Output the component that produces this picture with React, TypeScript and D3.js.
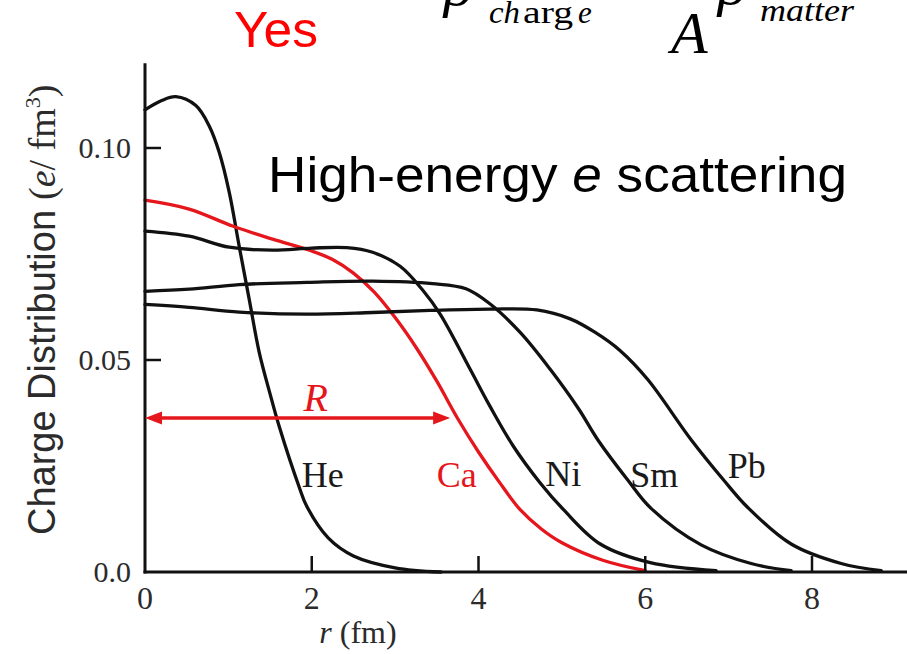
import React from "react";
import * as d3 from "d3";

// ---- data ----
const nuclei = ["He", "Ca", "Ni", "Sm", "Pb"];

const heR = [0, 0.2, 0.37, 0.61, 0.77, 0.89, 1.01, 1.13, 1.25, 1.37, 1.5, 1.61, 1.85, 1.94, 2.2, 2.5, 3.0, 3.55];
const heV = [0.109, 0.1112, 0.1121, 0.11, 0.1052, 0.099, 0.0896, 0.0768, 0.0643, 0.0518, 0.042, 0.0343, 0.02, 0.0155, 0.008, 0.0038, 0.001, 0];

const caR = [0, 0.53, 1.05, 1.53, 2.0, 2.25, 2.5, 2.75, 3.0, 3.25, 3.5, 3.75, 4.0, 4.25, 4.5, 4.75, 5.0, 5.5, 6.0];
const caV = [0.0877, 0.0856, 0.0816, 0.0785, 0.0757, 0.0737, 0.0705, 0.066, 0.06, 0.053, 0.045, 0.0362, 0.0283, 0.0212, 0.0147, 0.0102, 0.0069, 0.0027, 0.0003];

const niR = [0, 0.53, 1.01, 1.53, 2.0, 2.42, 2.73, 3.06, 3.33, 3.54, 3.9, 4.14, 4.42, 4.74, 5.02, 5.46, 6.06, 6.85];
const niV = [0.0804, 0.0792, 0.0766, 0.0759, 0.0764, 0.0765, 0.0754, 0.0721, 0.0665, 0.0608, 0.0478, 0.039, 0.0296, 0.021, 0.0147, 0.0066, 0.0022, 0.0003];

const smR = [0, 0.53, 1.13, 1.94, 2.73, 3.45, 3.85, 4.14, 4.5, 4.86, 5.2, 5.43, 5.79, 6.07, 6.67, 7.27, 7.75];
const smV = [0.0662, 0.0667, 0.0678, 0.0683, 0.0686, 0.068, 0.0668, 0.0632, 0.0565, 0.0478, 0.0385, 0.0312, 0.0217, 0.015, 0.0064, 0.002, 0.0003];

const pbR = [0, 0.53, 1.13, 1.94, 2.73, 3.45, 4.14, 4.7, 5.1, 5.4, 5.7, 6.03, 6.55, 6.94, 7.23, 7.75, 8.35, 8.83];
const pbV = [0.0631, 0.0624, 0.0613, 0.0608, 0.0612, 0.0617, 0.062, 0.0618, 0.0597, 0.0565, 0.0522, 0.0454, 0.0312, 0.0217, 0.0152, 0.0066, 0.002, 0.0003];

const seriesR = [heR, caR, niR, smR, pbR];
const seriesV = [heV, caV, niV, smV, pbV];

const xTicks = [0, 2, 4, 6, 8];
const yTicks = [0, 0.05, 0.1];
const yTickLabels = ["0.0", "0.05", "0.10"];

// radius arrow for Ca (in data units)
const arrowR = [0, 3.66];
const arrowV = 0.0363;

const W = 907;
const H = 654;
const SERIF = "'Liberation Serif', 'Times New Roman', 'DejaVu Serif', serif";
const SANS = "'Liberation Sans', Arial, Helvetica, sans-serif";
const RED = "#e5161c";
const INK = "#111";

export default function App() {
  const x = d3.scaleLinear().domain([0, 8]).range([145, 812]);
  const y = d3.scaleLinear().domain([0, 0.1]).range([572, 148]);
  const line = d3
    .line<[number, number]>()
    .x((d) => x(d[0]))
    .y((d) => Math.min(y(0), y(d[1])))
    .curve(d3.curveCatmullRom.alpha(0.5));

  const colors = nuclei.map((n) => (n === "Ca" ? RED : INK));
  // label anchors in data units
  const labelPos: [number, number][] = [
    [1.88, 0.0201],
    [3.5, 0.0201],
    [4.8, 0.0203],
    [5.82, 0.0201],
    [6.99, 0.0222],
  ];

  const yTop = y(0.12);
  const ax = x(0);
  const ay = y(0);
  const arY = y(arrowV);
  const ax0 = x(arrowR[0]);
  const ax1 = x(arrowR[1]);

  return (
    <svg
      width={W}
      height={H}
      viewBox={`0 0 ${W} ${H}`}
      style={{ position: "absolute", left: 0, top: 0, background: "#fff" }}
    >
      <rect x={0} y={0} width={W} height={H} fill="#fff" />

      {/* top formula fragments (cut off at the top edge, as in the source) */}
      <text x={234} y={47} fontFamily={SANS} fontSize={50} fill="#ff0000" textLength={84} lengthAdjust="spacingAndGlyphs">
        Yes
      </text>
      <text x={444} y={5} fontFamily={SERIF} fontStyle="italic" fontSize={60} fill="#000">
        ρ
      </text>
      <text y={23} fontFamily={SERIF} fontSize={31} fill="#000">
        <tspan x={489} fontStyle="italic" textLength={31} lengthAdjust="spacingAndGlyphs">ch</tspan>
        <tspan x={523} textLength={50} lengthAdjust="spacingAndGlyphs">arg</tspan>
        <tspan x={578} fontStyle="italic">e</tspan>
      </text>
      <text x={671} y={53} fontFamily={SERIF} fontStyle="italic" fontSize={60} fill="#000">
        A
      </text>
      <text x={718} y={4} fontFamily={SERIF} fontStyle="italic" fontSize={60} fill="#000">
        ρ
      </text>
      <text x={760} y={21} fontFamily={SERIF} fontStyle="italic" fontSize={31} fill="#000" textLength={94} lengthAdjust="spacingAndGlyphs">
        matter
      </text>

      {/* annotation */}
      <text x={268} y={192} fontFamily={SANS} fontSize={50} fill="#000" textLength={579} lengthAdjust="spacingAndGlyphs">
        <tspan>High-energy </tspan>
        <tspan fontStyle="italic">e</tspan>
        <tspan> scattering</tspan>
      </text>

      {/* curves */}
      {seriesR.map((rs, i) => {
        const pts = rs.map((r, j) => [r, seriesV[i][j]] as [number, number]);
        return (
          <path
            key={nuclei[i]}
            d={line(pts) || ""}
            fill="none"
            stroke={colors[i]}
            strokeWidth={3.3}
            strokeLinejoin="round"
            strokeLinecap="round"
          />
        );
      })}

      {/* axes */}
      <line x1={ax} y1={yTop} x2={ax} y2={ay + 1.5} stroke={INK} strokeWidth={3} />
      <line x1={ax - 1.5} y1={ay} x2={W} y2={ay} stroke={INK} strokeWidth={3} />
      {yTicks.filter((t) => t > 0).map((t) => (
        <line key={"yt" + t} x1={ax} x2={ax + 16} y1={y(t)} y2={y(t)} stroke={INK} strokeWidth={2.5} />
      ))}
      {xTicks.filter((t) => t > 0).map((t) => (
        <line key={"xt" + t} x1={x(t)} x2={x(t)} y1={ay} y2={ay - 16} stroke={INK} strokeWidth={2.5} />
      ))}
      {yTicks.map((t, i) => (
        <text
          key={"yl" + t}
          x={ax - 14}
          y={y(t)}
          dy="0.34em"
          textAnchor="end"
          fontFamily={SERIF}
          fontSize={30}
          fill="#2b2b2b"
        >
          {yTickLabels[i]}
        </text>
      ))}
      {xTicks.map((t) => (
        <text
          key={"xl" + t}
          x={x(t)}
          y={609}
          textAnchor="middle"
          fontFamily={SERIF}
          fontSize={32}
          fill="#2b2b2b"
        >
          {t}
        </text>
      ))}
      <text x={358} y={643} textAnchor="middle" fontFamily={SERIF} fontSize={32} fill="#2b2b2b">
        <tspan fontStyle="italic">r</tspan>
        <tspan> (fm)</tspan>
      </text>

      {/* y title */}
      <text transform="translate(55,535) rotate(-90)" fontSize={38} fill="#2b2b2b">
        <tspan fontFamily={SANS} textLength={325} lengthAdjust="spacingAndGlyphs">
          Charge Distribution
        </tspan>
        <tspan fontFamily={SERIF} dx={10}>(</tspan>
        <tspan fontFamily={SERIF} fontStyle="italic">e</tspan>
        <tspan fontFamily={SERIF}>/ fm</tspan>
        <tspan fontFamily={SERIF} fontSize={22} dy={-15}>3</tspan>
        <tspan fontFamily={SERIF} dy={15}>)</tspan>
      </text>

      {/* curve labels */}
      {nuclei.map((n, i) => (
        <text
          key={"lab" + n}
          x={x(labelPos[i][0])}
          y={y(labelPos[i][1])}
          fontFamily={SERIF}
          fontSize={36}
          fill={n === "Ca" ? RED : "#1a1a1a"}
        >
          {n}
        </text>
      ))}

      {/* R arrow */}
      <line x1={ax0 + 10} x2={ax1 - 10} y1={arY} y2={arY} stroke={RED} strokeWidth={3.5} />
      <path
        d={`M${ax0},${arY} L${ax0 + 17},${arY - 6.5} L${ax0 + 17},${arY + 6.5} Z`}
        fill={RED}
      />
      <path
        d={`M${ax1},${arY} L${ax1 - 17},${arY - 6.5} L${ax1 - 17},${arY + 6.5} Z`}
        fill={RED}
      />
      <text x={x(1.9)} y={y(0.038)} fontFamily={SERIF} fontStyle="italic" fontSize={40} fill={RED}>
        R
      </text>
    </svg>
  );
}
